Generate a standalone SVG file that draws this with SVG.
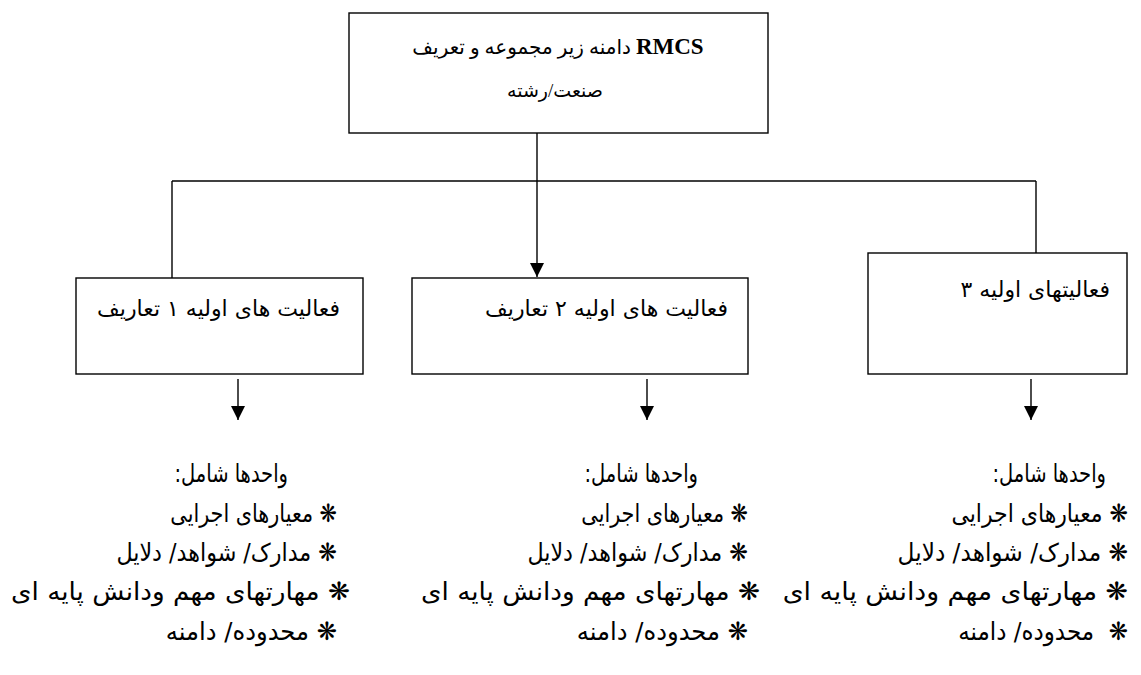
<svg xmlns="http://www.w3.org/2000/svg" width="1141" height="675" viewBox="0 0 1141 675">
<style>
.box{fill:#fff;stroke:#000;stroke-width:1.4}
.ln{fill:none;stroke:#000;stroke-width:1.4}
.t{font-family:'DejaVu Sans',sans-serif;font-size:22px;fill:#000;direction:rtl;text-anchor:start;white-space:pre}
.l{font-family:'DejaVu Sans',sans-serif;font-size:25px;fill:#000;direction:rtl;text-anchor:start;white-space:pre}
.h{font-family:'Liberation Serif','DejaVu Sans',serif;font-size:20px;fill:#000;direction:rtl;text-anchor:middle}
.b{font-weight:bold;font-size:23px}
</style>
<defs>
<marker id="ah" viewBox="0 0 14 14" refX="14" refY="7" markerWidth="14" markerHeight="14" markerUnits="userSpaceOnUse" orient="auto">
<path d="M0,0 L14,7 L0,14 z" fill="#000"/>
</marker>
</defs>
<g id="connectors">
<line class="ln" x1="537" y1="133" x2="537" y2="277" marker-end="url(#ah)"/>
<line class="ln" x1="172" y1="181" x2="1036" y2="181"/>
<line class="ln" x1="172" y1="181" x2="172" y2="278"/>
<line class="ln" x1="1036" y1="181" x2="1036" y2="253"/>
<line class="ln" x1="238" y1="379" x2="238" y2="420" marker-end="url(#ah)"/>
<line class="ln" x1="647" y1="379" x2="647" y2="420" marker-end="url(#ah)"/>
<line class="ln" x1="1031" y1="379" x2="1031" y2="420" marker-end="url(#ah)"/>
</g>
<g id="node-top">
<rect class="box" x="349" y="13" width="419" height="120"/>
<text class="h" x="558" y="54"><tspan class="b">RMCS</tspan> دامنه زیر مجموعه و تعریف</text>
<text class="h" x="555" y="97" style="font-size:19px">صنعت/رشته</text>
</g>
<g id="node-1">
<rect class="box" x="76" y="278" width="287" height="96"/>
<text class="t" x="340" y="316">فعالیت های اولیه ۱ تعاریف</text>
</g>
<g id="node-2">
<rect class="box" x="412" y="278" width="336" height="96"/>
<text class="t" x="728" y="316">فعالیت های اولیه ۲ تعاریف</text>
</g>
<g id="node-3">
<rect class="box" x="868" y="253" width="259" height="121"/>
<text class="t" x="1110" y="297">فعالیتهای اولیه ۳</text>
</g>
<g id="list-1">
<text class="l" transform="translate(288,482) scale(0.78,1)">واحدها شامل:</text>
<text class="l" transform="translate(337,522) scale(0.83,1)">❋ معیارهای اجرایی</text>
<text class="l" transform="translate(337,561) scale(0.89,1)">❋ مدارک/ شواهد/ دلایل</text>
<text class="l" transform="translate(350,600) scale(1.05,1)">❋ مهارتهای مهم ودانش پایه ای</text>
<text class="l" transform="translate(337,640) scale(0.97,1)">❋ محدوده/ دامنه</text>
</g>
<g id="list-2">
<text class="l" transform="translate(698,482) scale(0.78,1)">واحدها شامل:</text>
<text class="l" transform="translate(748,522) scale(0.83,1)">❋ معیارهای اجرایی</text>
<text class="l" transform="translate(748,561) scale(0.89,1)">❋ مدارک/ شواهد/ دلایل</text>
<text class="l" transform="translate(760,600) scale(1.05,1)">❋ مهارتهای مهم ودانش پایه ای</text>
<text class="l" transform="translate(748,640) scale(0.97,1)">❋ محدوده/ دامنه</text>
</g>
<g id="list-3">
<text class="l" transform="translate(1106,482) scale(0.78,1)">واحدها شامل:</text>
<text class="l" transform="translate(1128,522) scale(0.88,1)">❋ معیارهای اجرایی</text>
<text class="l" transform="translate(1128,561) scale(0.93,1)">❋ مدارک/ شواهد/ دلایل</text>
<text class="l" transform="translate(1128,600) scale(1.07,1)">❋ مهارتهای مهم ودانش پایه ای</text>
<text class="l" transform="translate(1128,640) scale(0.92,1)">❋  محدوده/ دامنه</text>
</g>
</svg>
